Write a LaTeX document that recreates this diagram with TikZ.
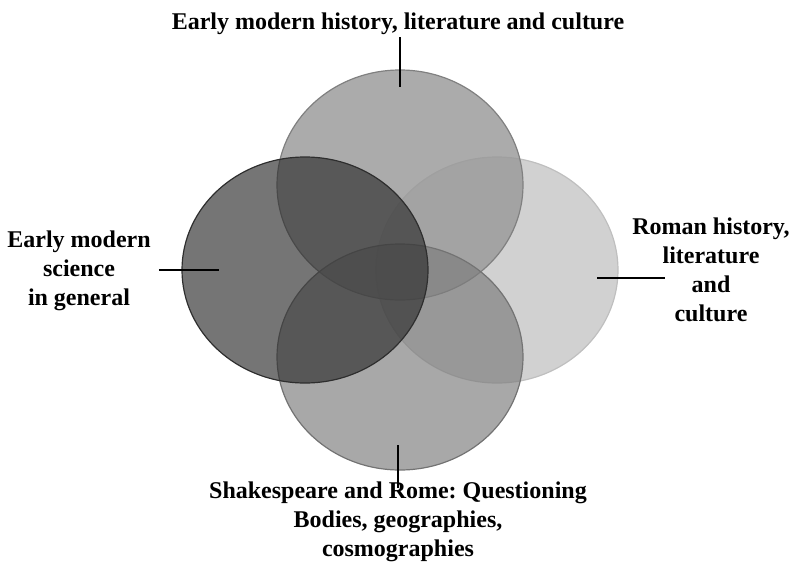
\documentclass[tikz,border=0pt]{standalone}
\usepackage{fontspec}
\setmainfont{Liberation Serif}
\usetikzlibrary{shapes.geometric}
\frenchspacing
\begin{document}
\begin{tikzpicture}[x=1pt,y=-1pt,
  venn/.style={ellipse, inner sep=0pt, line width=1.2pt},
  lbl/.style={font=\fontsize{24}{29}\selectfont\bfseries\frenchspacing, align=center, inner sep=0pt},
  conn/.style={line width=1.5pt, black}]
\useasboundingbox (0,0) rectangle (793,565);
% circles
\node[venn, draw=black!25, fill=black!18, minimum width=242pt, minimum height=226pt] (roman) at (497,270) {};
\node[venn, draw=black!50, fill=black!40, fill opacity=0.82, minimum width=246pt, minimum height=230pt] (emh) at (400,185) {};
\node[venn, draw=black!55, fill=black!51, fill opacity=0.67, minimum width=246pt, minimum height=226pt] (shr) at (400,357) {};
\node[venn, draw=black!82, fill=black!82, fill opacity=0.66, minimum width=246pt, minimum height=226pt] (ems) at (305,270) {};
% labels
\node[lbl, anchor=base] (tEMH) at (398,29) {Early modern history, literature and culture};
\node[lbl] (tEMS) at (79,271) {Early modern\\science\\in general};
\node[lbl] (tROM) at (711,270) {Roman history,\\literature\\and\\culture};
\node[lbl] (tSHR) at (398,522) {Shakespeare and Rome: Questioning\\Bodies, geographies,\\cosmographies};
% connector ends
\coordinate (eEMH) at (400,87);
\coordinate (eEMS) at (219,270);
\coordinate (eROM) at (597,278);
\coordinate (eSHR) at (398,445);
\draw[conn] ([yshift=-3pt]tEMH.south -| eEMH) -- (eEMH);
\draw[conn] ([xshift=8pt]tEMS.east |- eEMS) -- (eEMS);
\draw[conn] (eROM) -- ([xshift=33pt]tROM.west |- eROM);
\draw[conn] (eSHR) -- ([yshift=-6pt]tSHR.north -| eSHR);
\end{tikzpicture}
\end{document}
